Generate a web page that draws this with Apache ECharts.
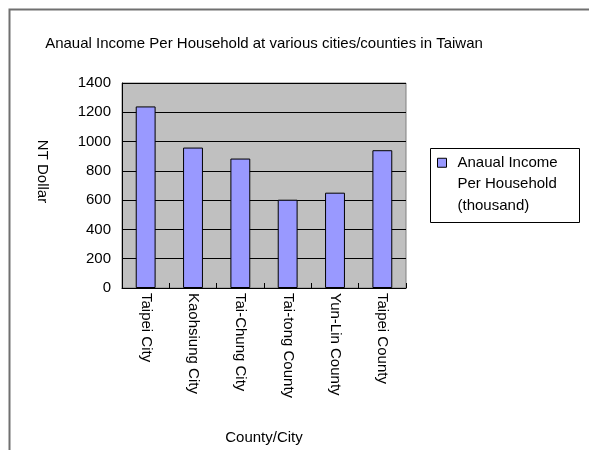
<!DOCTYPE html>
<html><head><meta charset="utf-8">
<script src="https://cdn.jsdelivr.net/npm/echarts@6/dist/echarts.min.js"></script>
<style>html,body{margin:0;padding:0;background:#fff}#c{width:589px;height:450px}</style>
</head><body><div id="c"></div>
<script>
var categories = ['Taipei City', 'Kaohsiung City', 'Tai-Chung City', 'Tai-tong County', 'Yun-Lin County', 'Taipei County'];
var incomeValues = [1240, 959, 884, 603, 651, 941];
var seriesName = 'Anaual Income Per Household (thousand)';
var yTicks = { min: 0, max: 1400, interval: 200 };
var FONT = '"Liberation Sans", Arial, sans-serif';

var chart = echarts.init(document.getElementById('c'));
chart.setOption({
  animation: false,
  backgroundColor: '#fff',
  title: {
    text: 'Anaual Income Per Household at various cities/counties in Taiwan',
    left: 264, top: 36, textAlign: 'center', padding: 0,
    textStyle: { fontFamily: FONT, fontSize: 15, fontWeight: 'normal', color: '#000' }
  },
  graphic: [
    { type: 'rect', shape: { x: 9.5, y: 9.5, width: 700, height: 600 }, style: { fill: 'none', stroke: '#707070', lineWidth: 2 }, silent: true },
    { type: 'rect', shape: { x: 430.5, y: 148.5, width: 149, height: 74 }, style: { fill: 'none', stroke: '#000', lineWidth: 1 }, silent: true }
  ],
  legend: {
    left: 437, top: 152, padding: 0, itemGap: 0,
    itemWidth: 15.01, itemHeight: 52,
    icon: 'path://M0,0L9,0L9,9L0,9Z M15,52L15.01,52',
    itemStyle: { borderColor: '#000', borderWidth: 1 },
    formatter: function () { return 'Anaual Income\nPer Household\n(thousand)'; },
    textStyle: { fontFamily: FONT, fontSize: 15, color: '#000', lineHeight: 21.5 },
    data: [seriesName]
  },
  grid: {
    left: 122, right: 183, top: 83, bottom: 162,
    show: true, backgroundColor: '#c0c0c0', borderColor: '#808080', borderWidth: 1
  },
  xAxis: {
    type: 'category', data: categories,
    name: 'County/City', nameLocation: 'middle', nameGap: 142,
    nameTextStyle: { fontFamily: FONT, fontSize: 15, color: '#000' },
    axisLine: { lineStyle: { color: '#000', width: 1 } },
    axisTick: { show: true, inside: true, length: 5, alignWithLabel: false, lineStyle: { color: '#000' } },
    axisLabel: { rotate: -90, margin: 5, fontFamily: FONT, fontSize: 15, color: '#000', interval: 0 },
    splitLine: { show: false }
  },
  yAxis: {
    type: 'value', min: yTicks.min, max: yTicks.max, interval: yTicks.interval,
    name: 'NT Dollar', nameLocation: 'middle', nameGap: 72, nameRotate: -90,
    nameTextStyle: { fontFamily: FONT, fontSize: 15, color: '#000', padding: [0, 28, 0, 0] },
    axisLine: { show: true, lineStyle: { color: '#000', width: 1 } },
    axisTick: { show: true, inside: true, length: 5, lineStyle: { color: '#000' } },
    axisLabel: { margin: 11, fontFamily: FONT, fontSize: 15, color: '#000', formatter: function (v) { return String(v); } },
    splitLine: { show: true, lineStyle: { color: '#000', width: 1 } }
  },
  series: [{
    name: seriesName, type: 'bar', data: incomeValues,
    barWidth: '42%',
    itemStyle: { color: '#9999ff', borderColor: '#000', borderWidth: 1 }
  }]
});
</script></body></html>
